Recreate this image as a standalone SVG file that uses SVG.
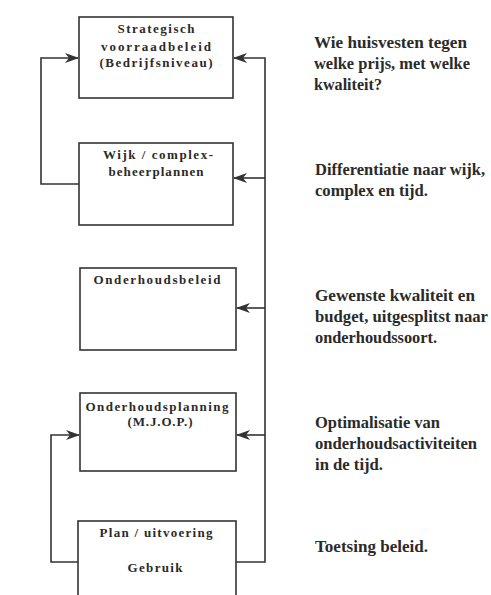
<svg xmlns="http://www.w3.org/2000/svg" width="491" height="595" viewBox="0 0 491 595">
<defs>
<style>
.box{fill:#fff;stroke:#333;stroke-width:1.6}
.bt{font-family:"Liberation Serif","Times New Roman",serif;font-weight:bold;font-size:13px;fill:#2a2a2a;text-anchor:middle}
.rt{font-family:"Liberation Serif","Times New Roman",serif;font-weight:bold;font-size:16px;fill:#2a2a2a}
.ln{fill:none;stroke:#333;stroke-width:1.6}
</style>
<marker id="ah" viewBox="0 0 14 10" refX="13" refY="5" markerWidth="14" markerHeight="10" markerUnits="userSpaceOnUse" orient="auto">
<path d="M0,0 L14,5 L0,10 L4,5 Z" fill="#333"/>
</marker>
</defs>
<rect width="491" height="595" fill="#fff"/>
<g id="connectors">
<path class="ln" d="M79,184 H41 V58 H78" marker-end="url(#ah)"/>
<path class="ln" d="M236,562 H265 V58 H234" marker-end="url(#ah)"/>
<path class="ln" d="M265,178 H234" marker-end="url(#ah)"/>
<path class="ln" d="M265,308 H237" marker-end="url(#ah)"/>
<path class="ln" d="M265,435 H237" marker-end="url(#ah)"/>
<path class="ln" d="M78,562 H51 V435 H79" marker-end="url(#ah)"/>
</g>
<g id="n1">
<rect class="box" x="79" y="17" width="154" height="81"/>
<text class="bt" x="156" y="33" textLength="77" lengthAdjust="spacing">Strategisch</text>
<text class="bt" x="156" y="51" textLength="110" lengthAdjust="spacing">voorraadbeleid</text>
<text class="bt" x="156" y="67" textLength="113" lengthAdjust="spacing">(Bedrijfsniveau)</text>
</g>
<g id="n2">
<rect class="box" x="79" y="143" width="154" height="82"/>
<text class="bt" x="158" y="159" textLength="110" lengthAdjust="spacing">Wijk / complex-</text>
<text class="bt" x="156" y="176" textLength="95" lengthAdjust="spacing">beheerplannen</text>
</g>
<g id="n3">
<rect class="box" x="80" y="268" width="156" height="82"/>
<text class="bt" x="157" y="284" textLength="127" lengthAdjust="spacing">Onderhoudsbeleid</text>
</g>
<g id="n4">
<rect class="box" x="80" y="393" width="156" height="78"/>
<text class="bt" x="157" y="411" textLength="143" lengthAdjust="spacing">Onderhoudsplanning</text>
<text class="bt" x="160" y="426" textLength="65" lengthAdjust="spacing">(M.J.O.P.)</text>
</g>
<g id="n5">
<rect class="box" x="78" y="521" width="158" height="85"/>
<text class="bt" x="156" y="537" textLength="113" lengthAdjust="spacing">Plan / uitvoering</text>
<text class="bt" x="155" y="572" textLength="55" lengthAdjust="spacing">Gebruik</text>
</g>
<g id="notes">
<text class="rt" x="314" y="48" textLength="153" lengthAdjust="spacingAndGlyphs">Wie huisvesten tegen</text>
<text class="rt" x="314" y="69" textLength="156" lengthAdjust="spacingAndGlyphs">welke prijs, met welke</text>
<text class="rt" x="314" y="90" textLength="68" lengthAdjust="spacingAndGlyphs">kwaliteit?</text>
<text class="rt" x="315" y="175" textLength="170" lengthAdjust="spacingAndGlyphs">Differentiatie naar wijk,</text>
<text class="rt" x="315" y="196" textLength="113" lengthAdjust="spacingAndGlyphs">complex en tijd.</text>
<text class="rt" x="315" y="301" textLength="160" lengthAdjust="spacingAndGlyphs">Gewenste kwaliteit en</text>
<text class="rt" x="315" y="322" textLength="173" lengthAdjust="spacingAndGlyphs">budget, uitgesplitst naar</text>
<text class="rt" x="315" y="343" textLength="122" lengthAdjust="spacingAndGlyphs">onderhoudssoort.</text>
<text class="rt" x="315" y="428" textLength="125" lengthAdjust="spacingAndGlyphs">Optimalisatie van</text>
<text class="rt" x="315" y="449" textLength="162" lengthAdjust="spacingAndGlyphs">onderhoudsactiviteiten</text>
<text class="rt" x="315" y="470" textLength="68" lengthAdjust="spacingAndGlyphs">in de tijd.</text>
<text class="rt" x="315" y="552" textLength="113" lengthAdjust="spacingAndGlyphs">Toetsing beleid.</text>
</g>
</svg>
